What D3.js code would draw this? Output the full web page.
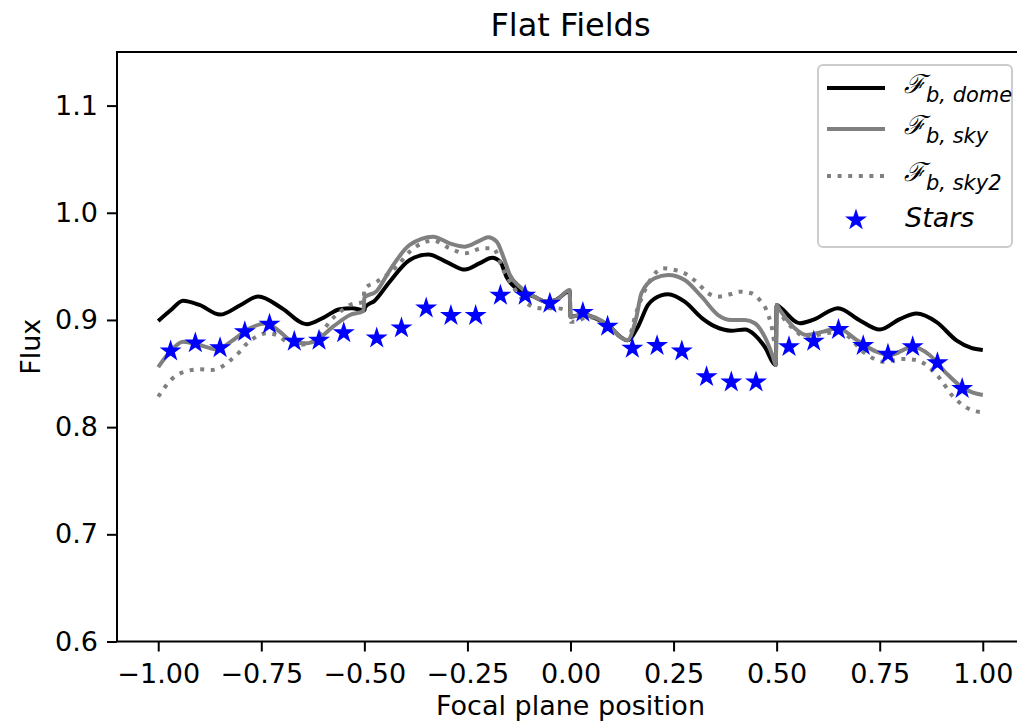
<!DOCTYPE html>
<html>
<head>
<meta charset="utf-8">
<script src="https://cdn.jsdelivr.net/npm/d3@7"></script>
<style>
  body { margin: 0; background: #fff; }
  svg { display: block; font-family: "DejaVu Sans", sans-serif; }
</style>
</head>
<body>
<svg id="chart" width="1017" height="726"></svg>
<script>
// flat field curves, [position, flux]; jumps at the chip edges -0.5, 0, 0.5
const dome = [
  [-1.00, 0.899], [-0.97, 0.909], [-0.94, 0.918], [-0.90, 0.914], [-0.85, 0.905],
  [-0.80, 0.914], [-0.757, 0.922], [-0.70, 0.911], [-0.64, 0.896], [-0.60, 0.902],
  [-0.56, 0.910], [-0.53, 0.911], [-0.50, 0.909], [-0.498, 0.912], [-0.475, 0.918],
  [-0.44, 0.935], [-0.39, 0.956], [-0.345, 0.961], [-0.30, 0.954], [-0.256, 0.947],
  [-0.22, 0.953], [-0.19, 0.958], [-0.17, 0.954], [-0.155, 0.940], [-0.13, 0.929],
  [-0.09, 0.922], [-0.058, 0.917], [-0.034, 0.919], [-0.002, 0.927], [0.000, 0.903],
  [0.03, 0.905], [0.09, 0.895], [0.138, 0.881], [0.164, 0.894], [0.188, 0.914],
  [0.22, 0.923], [0.237, 0.924], [0.277, 0.917], [0.318, 0.902], [0.35, 0.894],
  [0.39, 0.890], [0.423, 0.891], [0.447, 0.886], [0.471, 0.875], [0.498, 0.858],
  [0.500, 0.914], [0.508, 0.912], [0.556, 0.897], [0.588, 0.900], [0.649, 0.911],
  [0.70, 0.900], [0.75, 0.891], [0.80, 0.901], [0.839, 0.906], [0.888, 0.898],
  [0.936, 0.881], [0.972, 0.874], [1.00, 0.872]
];

const sky = [
  [-1.00, 0.856], [-0.9675, 0.872], [-0.94, 0.8797], [-0.90, 0.8766], [-0.858, 0.8726],
  [-0.818, 0.8813], [-0.778, 0.8922], [-0.737, 0.8969], [-0.705, 0.889], [-0.673, 0.8797],
  [-0.640, 0.8782], [-0.616, 0.8813], [-0.576, 0.8937], [-0.535, 0.9046], [-0.502, 0.9084],
  [-0.500, 0.921], [-0.47, 0.927], [-0.438, 0.9466], [-0.39, 0.970], [-0.333, 0.9777],
  [-0.293, 0.9715], [-0.256, 0.9684], [-0.22, 0.974], [-0.20, 0.9771], [-0.179, 0.973],
  [-0.163, 0.959], [-0.147, 0.942], [-0.123, 0.931], [-0.091, 0.9224], [-0.058, 0.917],
  [-0.034, 0.9188], [-0.002, 0.928], [0.000, 0.903], [0.031, 0.9046], [0.091, 0.8953],
  [0.125, 0.883], [0.138, 0.8813], [0.160, 0.903], [0.172, 0.9249], [0.204, 0.9389],
  [0.237, 0.942], [0.277, 0.9373], [0.318, 0.9217], [0.358, 0.9046], [0.390, 0.900],
  [0.423, 0.900], [0.447, 0.8969], [0.471, 0.8844], [0.491, 0.8657], [0.498, 0.858],
  [0.500, 0.914], [0.508, 0.9093], [0.540, 0.8937], [0.572, 0.886], [0.613, 0.8891],
  [0.649, 0.8922], [0.694, 0.8813], [0.742, 0.8704], [0.774, 0.8673], [0.831, 0.875],
  [0.871, 0.8673], [0.912, 0.8502], [0.948, 0.8377], [0.976, 0.8321], [1.00, 0.830]
];

const sky2 = [
  [-1.00, 0.8284], [-0.9675, 0.8446], [-0.943, 0.8508], [-0.899, 0.854], [-0.8705, 0.8533],
  [-0.846, 0.8564], [-0.822, 0.8633], [-0.802, 0.8704], [-0.786, 0.8776], [-0.761, 0.8844],
  [-0.737, 0.8876], [-0.713, 0.886], [-0.689, 0.8797], [-0.664, 0.8766], [-0.632, 0.8782],
  [-0.608, 0.886], [-0.584, 0.8984], [-0.559, 0.9077], [-0.535, 0.914], [-0.502, 0.917],
  [-0.500, 0.929], [-0.470, 0.9357], [-0.422, 0.9497], [-0.390, 0.9637], [-0.333, 0.974],
  [-0.293, 0.9669], [-0.256, 0.9622], [-0.212, 0.9669], [-0.188, 0.9669], [-0.163, 0.9466],
  [-0.139, 0.931], [-0.115, 0.9186], [-0.074, 0.9109], [-0.034, 0.9109], [-0.002, 0.9074],
  [0.000, 0.8984], [0.0145, 0.8984], [0.04, 0.903], [0.09, 0.894], [0.138, 0.881],
  [0.160, 0.9077], [0.200, 0.941], [0.2245, 0.9482], [0.253, 0.9466], [0.277, 0.9435],
  [0.309, 0.9342], [0.334, 0.9249], [0.358, 0.9217], [0.390, 0.9242], [0.4105, 0.9264],
  [0.439, 0.9249], [0.459, 0.9186], [0.475, 0.9093], [0.487, 0.8953], [0.498, 0.875],
  [0.500, 0.913], [0.508, 0.907], [0.540, 0.892], [0.572, 0.884], [0.613, 0.887],
  [0.649, 0.889], [0.669, 0.886], [0.7095, 0.8704], [0.734, 0.8642], [0.758, 0.861],
  [0.8065, 0.8636], [0.839, 0.8627], [0.863, 0.858], [0.8955, 0.8456], [0.928, 0.8284],
  [0.948, 0.8216], [0.972, 0.816], [1.00, 0.8138]
];

// star measurements
const starX = [-0.97, -0.91, -0.85, -0.79, -0.73, -0.67, -0.61, -0.55,
               -0.47, -0.41, -0.35, -0.29, -0.23, -0.17, -0.11, -0.05,
                0.03,  0.09,  0.15,  0.21,  0.27,  0.33,  0.39,  0.45,
                0.53,  0.59,  0.65,  0.71,  0.77,  0.83,  0.89,  0.95];
const starY = [0.871, 0.8785, 0.874, 0.889, 0.896, 0.880, 0.881, 0.888,
               0.883, 0.8925, 0.911, 0.904, 0.904, 0.923, 0.923, 0.9155,
               0.907, 0.894, 0.8735, 0.876, 0.871, 0.847, 0.842, 0.842,
               0.875, 0.880, 0.891, 0.876, 0.868, 0.875, 0.860, 0.836];

const xTicks = [-1.0, -0.75, -0.5, -0.25, 0, 0.25, 0.5, 0.75, 1.0];
const yTicks = [0.6, 0.7, 0.8, 0.9, 1.0, 1.1];

const svg = d3.select('#chart');

// plot area (right edge runs past the picture, like the original)
const plotLeft = 117, plotRight = 1024, plotTop = 52, plotBottom = 641.5;

const x = d3.scaleLinear().domain([-1.1, 1.1]).range([plotLeft, plotRight]);
const y = d3.scaleLinear().domain([0.6, 1.15]).range([plotBottom, plotTop]);

// axes
const xAxis = svg.append('g')
  .attr('transform', `translate(0, ${plotBottom})`)
  .call(d3.axisBottom(x).tickValues(xTicks).tickFormat(d3.format('.2f')).tickSize(10).tickPadding(12));

const yAxis = svg.append('g')
  .attr('transform', `translate(${plotLeft}, 0)`)
  .call(d3.axisLeft(y).tickValues(yTicks).tickFormat(d3.format('.1f')).tickSize(10).tickPadding(9));

[xAxis, yAxis].forEach(g => {
  g.select('.domain').remove();
  g.selectAll('line').attr('stroke', '#000').attr('stroke-width', 2);
  g.selectAll('text')
    .style('font-family', '"DejaVu Sans", sans-serif')
    .style('font-size', '27px')
    .attr('fill', '#000');
});

// curves
const line = d3.line()
  .x(d => x(d[0]))
  .y(d => y(d[1]))
  .curve(d3.curveMonotoneX);

svg.append('path')
  .datum(dome)
  .attr('d', line)
  .attr('fill', 'none')
  .attr('stroke', '#000')
  .attr('stroke-width', 4);

svg.append('path')
  .datum(sky)
  .attr('d', line)
  .attr('fill', 'none')
  .attr('stroke', '#808080')
  .attr('stroke-width', 4);

svg.append('path')
  .datum(sky2)
  .attr('d', line)
  .attr('fill', 'none')
  .attr('stroke', '#808080')
  .attr('stroke-width', 4)
  .attr('stroke-dasharray', '4,6.6');

// stars
const star = d3.symbol().type(d3.symbolStar).size(66);

svg.selectAll('.star')
  .data(starX.map((v, i) => [v, starY[i]]))
  .enter()
  .append('path')
  .attr('class', 'star')
  .attr('transform', d => `translate(${x(d[0])}, ${y(d[1])})`)
  .attr('d', star)
  .attr('fill', '#0000ff')
  .attr('stroke', '#0000ff')
  .attr('stroke-width', 2.4)
  .attr('stroke-linejoin', 'miter');

// frame
svg.append('rect')
  .attr('x', plotLeft)
  .attr('y', plotTop)
  .attr('width', plotRight - plotLeft)
  .attr('height', plotBottom - plotTop)
  .attr('fill', 'none')
  .attr('stroke', '#000')
  .attr('stroke-width', 2);

// title and axis labels
svg.append('text')
  .attr('x', (plotLeft + plotRight) / 2)
  .attr('y', 36)
  .attr('text-anchor', 'middle')
  .style('font-size', '32px')
  .text('Flat Fields');

svg.append('text')
  .attr('x', (plotLeft + plotRight) / 2)
  .attr('y', 715)
  .attr('text-anchor', 'middle')
  .style('font-size', '27px')
  .text('Focal plane position');

svg.append('text')
  .attr('transform', `translate(40, ${(plotTop + plotBottom) / 2}) rotate(-90)`)
  .attr('text-anchor', 'middle')
  .style('font-size', '27px')
  .text('Flux');

// legend
const legend = svg.append('g');

legend.append('rect')
  .attr('x', 818)
  .attr('y', 65)
  .attr('width', 194)
  .attr('height', 182)
  .attr('rx', 5)
  .attr('fill', '#fff')
  .attr('fill-opacity', 0.8)
  .attr('stroke', '#cccccc')
  .attr('stroke-width', 2);

const legendItems = [
  { sub: 'b, dome', color: '#000', dash: null, y: 88 },
  { sub: 'b, sky', color: '#808080', dash: null, y: 129 },
  { sub: 'b, sky2', color: '#808080', dash: '4,6.6', y: 176 }
];

legendItems.forEach(d => {
  legend.append('line')
    .attr('x1', 827).attr('x2', 885)
    .attr('y1', d.y).attr('y2', d.y)
    .attr('stroke', d.color)
    .attr('stroke-width', 4)
    .attr('stroke-dasharray', d.dash);

  const t = legend.append('text')
    .attr('x', 904)
    .attr('y', d.y + 5)
    .style('font-size', '26px');
  t.append('tspan')
    .style('font-family', '"DejaVu Serif", serif')
    .style('font-style', 'italic')
    .text('\u2131');
  t.append('tspan')
    .attr('dy', 9)
    .attr('dx', 1)
    .style('font-size', '21px')
    .style('font-style', 'italic')
    .text(d.sub);
});

legend.append('path')
  .attr('transform', 'translate(856, 220)')
  .attr('d', star)
  .attr('fill', '#0000ff')
  .attr('stroke', '#0000ff')
  .attr('stroke-width', 2.4);

legend.append('text')
  .attr('x', 905)
  .attr('y', 227)
  .style('font-size', '27px')
  .style('font-style', 'italic')
  .text('Stars');
</script>
</body>
</html>
